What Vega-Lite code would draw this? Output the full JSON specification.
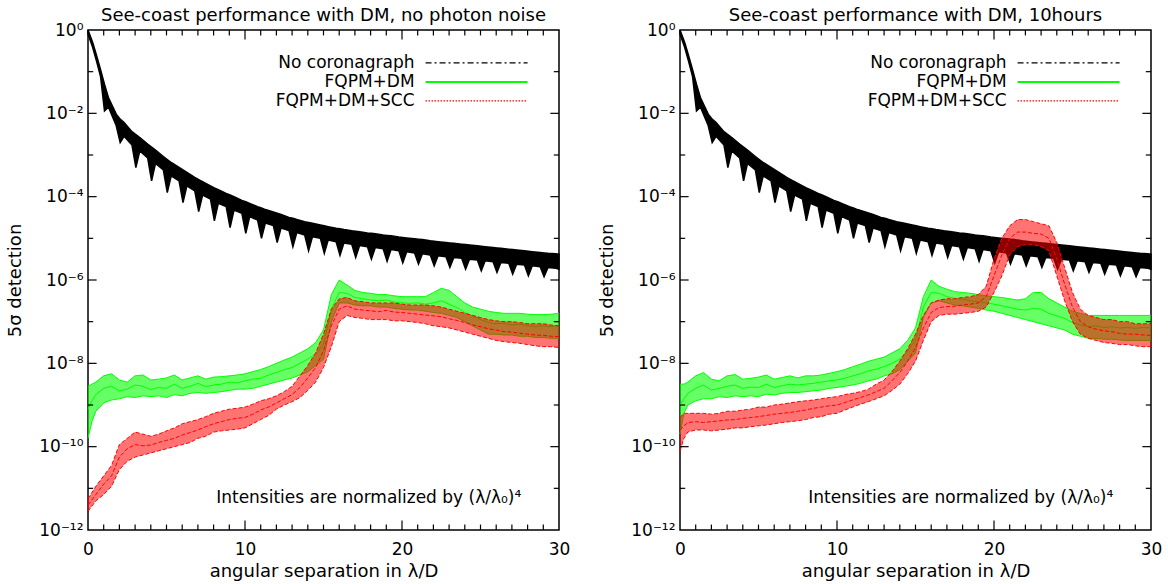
{
"$schema": "https://vega.github.io/schema/vega-lite/v6.json",
"background": "white",
"padding": {"left": 6, "top": 6, "right": 0, "bottom": 0},
"bounds": "flush",
"spacing": 121,
"config": {
  "view": {"stroke": "black", "strokeWidth": 1.5},
  "font": "DejaVu Sans",
  "axis": {"grid": false, "domain": false, "labelFont": "DejaVu Sans", "labelFontSize": 17, "labelColor": "black", "titleFont": "DejaVu Sans", "titleFontSize": 18, "titleFontWeight": "normal", "titleColor": "black", "labelFlush": false, "labelOverlap": false, "tickColor": "black", "tickWidth": 1},
  "title": {"font": "DejaVu Sans", "fontSize": 18, "fontWeight": "normal", "color": "black", "offset": -4},
  "text": {"font": "DejaVu Sans", "fontSize": 17, "color": "black", "baseline": "middle", "align": "right"}
},
"datasets": {
  "xminor": [{"v":1},{"v":2},{"v":3},{"v":4},{"v":5},{"v":6},{"v":7},{"v":8},{"v":9},{"v":11},{"v":12},{"v":13},{"v":14},{"v":15},{"v":16},{"v":17},{"v":18},{"v":19},{"v":21},{"v":22},{"v":23},{"v":24},{"v":25},{"v":26},{"v":27},{"v":28},{"v":29}],
  "xmajor": [{"v":10},{"v":20}],
  "yminor": [{"v":-1},{"v":-3},{"v":-5},{"v":-7},{"v":-9},{"v":-11}],
  "ymajor": [{"v":-2},{"v":-4},{"v":-6},{"v":-8},{"v":-10}],
  "black": [
    {"x":0,"up":0,"lo":-0.1},{"x":0.3,"up":-0.3,"lo":-0.42},{"x":0.55,"up":-0.62,"lo":-0.76},{"x":0.8,"up":-0.95,"lo":-1.12},{"x":1.05,"up":-1.3,"lo":-1.94},{"x":1.3,"up":-1.62,"lo":-1.85},
    {"x":1.8,"up":-2.02,"lo":-2.3},{"x":2.05,"up":-2.14,"lo":-2.7},{"x":2.3,"up":-2.22,"lo":-2.55},
    {"x":2.8,"up":-2.44,"lo":-2.76},{"x":3.05,"up":-2.51,"lo":-3.3},{"x":3.3,"up":-2.58,"lo":-2.9},
    {"x":3.8,"up":-2.74,"lo":-3.07},{"x":4.05,"up":-2.81,"lo":-3.62},{"x":4.3,"up":-2.88,"lo":-3.2},
    {"x":4.8,"up":-3.04,"lo":-3.36},{"x":5.05,"up":-3.11,"lo":-3.9},{"x":5.3,"up":-3.18,"lo":-3.5},
    {"x":5.8,"up":-3.3,"lo":-3.62},{"x":6.05,"up":-3.36,"lo":-4.14},{"x":6.3,"up":-3.42,"lo":-3.74},
    {"x":6.8,"up":-3.54,"lo":-3.86},{"x":7.05,"up":-3.59,"lo":-4.36},{"x":7.3,"up":-3.64,"lo":-3.96},
    {"x":7.8,"up":-3.74,"lo":-4.06},{"x":8.05,"up":-3.79,"lo":-4.58},{"x":8.3,"up":-3.83,"lo":-4.16},
    {"x":8.8,"up":-3.92,"lo":-4.24},{"x":9.05,"up":-3.96,"lo":-4.74},{"x":9.3,"up":-4.0,"lo":-4.32},
    {"x":9.8,"up":-4.09,"lo":-4.4},{"x":10.05,"up":-4.12,"lo":-4.88},{"x":10.3,"up":-4.16,"lo":-4.48},
    {"x":10.8,"up":-4.24,"lo":-4.56},{"x":11.05,"up":-4.27,"lo":-5.0},{"x":11.3,"up":-4.31,"lo":-4.63},
    {"x":11.8,"up":-4.37,"lo":-4.69},{"x":12.05,"up":-4.4,"lo":-5.1},{"x":12.3,"up":-4.43,"lo":-4.75},
    {"x":12.8,"up":-4.5,"lo":-4.81},{"x":13.05,"up":-4.52,"lo":-5.2},{"x":13.3,"up":-4.55,"lo":-4.86},
    {"x":13.8,"up":-4.6,"lo":-4.92},{"x":14.05,"up":-4.62,"lo":-5.3},{"x":14.3,"up":-4.64,"lo":-4.96},
    {"x":14.8,"up":-4.68,"lo":-5.0},{"x":15.05,"up":-4.7,"lo":-5.36},{"x":15.3,"up":-4.72,"lo":-5.04},
    {"x":15.8,"up":-4.76,"lo":-5.08},{"x":16.05,"up":-4.77,"lo":-5.41},{"x":16.3,"up":-4.79,"lo":-5.11},
    {"x":16.8,"up":-4.82,"lo":-5.14},{"x":17.05,"up":-4.83,"lo":-5.46},{"x":17.3,"up":-4.84,"lo":-5.17},
    {"x":17.8,"up":-4.87,"lo":-5.2},{"x":18.05,"up":-4.88,"lo":-5.5},{"x":18.3,"up":-4.89,"lo":-5.22},
    {"x":18.8,"up":-4.92,"lo":-5.25},{"x":19.05,"up":-4.93,"lo":-5.55},{"x":19.3,"up":-4.94,"lo":-5.27},
    {"x":19.8,"up":-4.97,"lo":-5.3},{"x":20.05,"up":-4.98,"lo":-5.59},{"x":20.3,"up":-4.99,"lo":-5.32},
    {"x":20.8,"up":-5.01,"lo":-5.35},{"x":21.05,"up":-5.02,"lo":-5.62},{"x":21.3,"up":-5.03,"lo":-5.37},
    {"x":21.8,"up":-5.06,"lo":-5.4},{"x":22.05,"up":-5.07,"lo":-5.66},{"x":22.3,"up":-5.08,"lo":-5.42},
    {"x":22.8,"up":-5.1,"lo":-5.44},{"x":23.05,"up":-5.11,"lo":-5.7},{"x":23.3,"up":-5.12,"lo":-5.46},
    {"x":23.8,"up":-5.14,"lo":-5.48},{"x":24.05,"up":-5.15,"lo":-5.74},{"x":24.3,"up":-5.16,"lo":-5.5},
    {"x":24.8,"up":-5.18,"lo":-5.52},{"x":25.05,"up":-5.19,"lo":-5.78},{"x":25.3,"up":-5.2,"lo":-5.54},
    {"x":25.8,"up":-5.22,"lo":-5.56},{"x":26.05,"up":-5.23,"lo":-5.82},{"x":26.3,"up":-5.24,"lo":-5.58},
    {"x":26.8,"up":-5.26,"lo":-5.6},{"x":27.05,"up":-5.27,"lo":-5.86},{"x":27.3,"up":-5.28,"lo":-5.62},
    {"x":27.8,"up":-5.3,"lo":-5.64},{"x":28.05,"up":-5.31,"lo":-5.9},{"x":28.3,"up":-5.32,"lo":-5.66},
    {"x":28.8,"up":-5.34,"lo":-5.68},{"x":29.05,"up":-5.35,"lo":-5.92},{"x":29.3,"up":-5.36,"lo":-5.7},
    {"x":29.8,"up":-5.37,"lo":-5.72},{"x":30,"up":-5.38,"lo":-5.74}
  ],
  "greenL": [
    {"x":0,"lo":-9.8,"mid":-9.1,"hi":-8.55},{"x":0.25,"lo":-9.4,"mid":-8.9,"hi":-8.5},{"x":0.5,"lo":-9.15,"mid":-8.75,"hi":-8.45},{"x":1,"lo":-8.95,"mid":-8.6,"hi":-8.3},{"x":1.5,"lo":-8.88,"mid":-8.55,"hi":-8.25},
    {"x":2,"lo":-8.85,"mid":-8.66,"hi":-8.4},{"x":2.5,"lo":-8.8,"mid":-8.62,"hi":-8.45},{"x":3,"lo":-8.82,"mid":-8.52,"hi":-8.3},{"x":3.5,"lo":-8.78,"mid":-8.55,"hi":-8.28},{"x":4,"lo":-8.8,"mid":-8.63,"hi":-8.4},
    {"x":4.5,"lo":-8.78,"mid":-8.58,"hi":-8.38},{"x":5,"lo":-8.82,"mid":-8.6,"hi":-8.35},{"x":5.5,"lo":-8.75,"mid":-8.5,"hi":-8.28},{"x":6,"lo":-8.78,"mid":-8.6,"hi":-8.4},{"x":6.5,"lo":-8.72,"mid":-8.55,"hi":-8.35},
    {"x":7,"lo":-8.7,"mid":-8.48,"hi":-8.3},{"x":7.5,"lo":-8.72,"mid":-8.56,"hi":-8.38},{"x":8,"lo":-8.7,"mid":-8.52,"hi":-8.33},{"x":8.5,"lo":-8.68,"mid":-8.5,"hi":-8.32},{"x":9,"lo":-8.65,"mid":-8.45,"hi":-8.3},
    {"x":9.5,"lo":-8.62,"mid":-8.47,"hi":-8.28},{"x":10,"lo":-8.62,"mid":-8.42,"hi":-8.25},{"x":10.5,"lo":-8.6,"mid":-8.38,"hi":-8.2},{"x":11,"lo":-8.55,"mid":-8.36,"hi":-8.15},{"x":11.5,"lo":-8.5,"mid":-8.28,"hi":-8.08},
    {"x":12,"lo":-8.45,"mid":-8.22,"hi":-8.0},{"x":12.5,"lo":-8.4,"mid":-8.15,"hi":-7.92},{"x":13,"lo":-8.35,"mid":-8.1,"hi":-7.85},{"x":13.5,"lo":-8.28,"mid":-8.0,"hi":-7.75},{"x":14,"lo":-8.2,"mid":-7.9,"hi":-7.65},
    {"x":14.5,"lo":-8.05,"mid":-7.78,"hi":-7.5},{"x":15,"lo":-7.9,"mid":-7.55,"hi":-7.2},{"x":15.5,"lo":-7.0,"mid":-6.7,"hi":-6.35},{"x":16,"lo":-6.55,"mid":-6.3,"hi":-6.0},{"x":16.5,"lo":-6.55,"mid":-6.32,"hi":-6.12},
    {"x":17,"lo":-6.6,"mid":-6.42,"hi":-6.25},{"x":17.5,"lo":-6.62,"mid":-6.45,"hi":-6.3},{"x":18,"lo":-6.62,"mid":-6.48,"hi":-6.32},{"x":18.5,"lo":-6.65,"mid":-6.5,"hi":-6.35},{"x":19,"lo":-6.65,"mid":-6.48,"hi":-6.35},
    {"x":19.5,"lo":-6.68,"mid":-6.53,"hi":-6.38},{"x":20,"lo":-6.7,"mid":-6.55,"hi":-6.4},{"x":20.5,"lo":-6.72,"mid":-6.56,"hi":-6.4},{"x":21,"lo":-6.72,"mid":-6.55,"hi":-6.4},{"x":21.5,"lo":-6.75,"mid":-6.58,"hi":-6.4},
    {"x":22,"lo":-6.78,"mid":-6.55,"hi":-6.3},{"x":22.5,"lo":-6.8,"mid":-6.5,"hi":-6.2},{"x":23,"lo":-6.85,"mid":-6.58,"hi":-6.25},{"x":23.5,"lo":-6.9,"mid":-6.66,"hi":-6.4},{"x":24,"lo":-7.0,"mid":-6.78,"hi":-6.55},
    {"x":24.5,"lo":-7.1,"mid":-6.86,"hi":-6.65},{"x":25,"lo":-7.2,"mid":-6.95,"hi":-6.7},{"x":25.5,"lo":-7.3,"mid":-7.02,"hi":-6.75},{"x":26,"lo":-7.3,"mid":-7.05,"hi":-6.78},{"x":26.5,"lo":-7.32,"mid":-7.04,"hi":-6.8},
    {"x":27,"lo":-7.32,"mid":-7.08,"hi":-6.8},{"x":27.5,"lo":-7.35,"mid":-7.06,"hi":-6.8},{"x":28,"lo":-7.35,"mid":-7.1,"hi":-6.82},{"x":28.5,"lo":-7.38,"mid":-7.12,"hi":-6.83},{"x":29,"lo":-7.38,"mid":-7.1,"hi":-6.83},
    {"x":29.5,"lo":-7.4,"mid":-7.12,"hi":-6.82},{"x":30,"lo":-7.4,"mid":-7.1,"hi":-6.8}
  ],
  "redL": [
    {"x":0,"lo":-11.55,"mid":-11.4,"hi":-11.25},{"x":0.5,"lo":-11.3,"mid":-11.15,"hi":-10.95},{"x":1,"lo":-11.15,"mid":-10.9,"hi":-10.7},{"x":1.5,"lo":-10.95,"mid":-10.7,"hi":-10.45},{"x":2,"lo":-10.55,"mid":-10.25,"hi":-9.95},
    {"x":2.5,"lo":-10.35,"mid":-10.05,"hi":-9.8},{"x":3,"lo":-10.25,"mid":-9.95,"hi":-9.65},{"x":3.5,"lo":-10.2,"mid":-9.98,"hi":-9.7},{"x":4,"lo":-10.15,"mid":-9.96,"hi":-9.75},{"x":4.5,"lo":-10.1,"mid":-9.9,"hi":-9.7},
    {"x":5,"lo":-10.05,"mid":-9.85,"hi":-9.62},{"x":5.5,"lo":-10.0,"mid":-9.8,"hi":-9.55},{"x":6,"lo":-9.95,"mid":-9.72,"hi":-9.45},{"x":6.5,"lo":-9.9,"mid":-9.66,"hi":-9.4},{"x":7,"lo":-9.8,"mid":-9.6,"hi":-9.35},
    {"x":7.5,"lo":-9.75,"mid":-9.52,"hi":-9.28},{"x":8,"lo":-9.65,"mid":-9.45,"hi":-9.2},{"x":8.5,"lo":-9.62,"mid":-9.4,"hi":-9.15},{"x":9,"lo":-9.6,"mid":-9.35,"hi":-9.1},{"x":9.5,"lo":-9.58,"mid":-9.32,"hi":-9.08},
    {"x":10,"lo":-9.55,"mid":-9.3,"hi":-9.05},{"x":10.5,"lo":-9.45,"mid":-9.22,"hi":-8.98},{"x":11,"lo":-9.35,"mid":-9.12,"hi":-8.9},{"x":11.5,"lo":-9.25,"mid":-9.05,"hi":-8.85},{"x":12,"lo":-9.1,"mid":-8.95,"hi":-8.78},
    {"x":12.5,"lo":-9.0,"mid":-8.85,"hi":-8.68},{"x":13,"lo":-8.92,"mid":-8.75,"hi":-8.55},{"x":13.5,"lo":-8.82,"mid":-8.58,"hi":-8.3},{"x":14,"lo":-8.65,"mid":-8.35,"hi":-8.05},{"x":14.5,"lo":-8.45,"mid":-8.1,"hi":-7.75},
    {"x":15,"lo":-8.1,"mid":-7.7,"hi":-7.3},{"x":15.5,"lo":-7.6,"mid":-7.1,"hi":-6.7},{"x":16,"lo":-7.0,"mid":-6.7,"hi":-6.45},{"x":16.5,"lo":-6.85,"mid":-6.62,"hi":-6.42},{"x":17,"lo":-6.9,"mid":-6.7,"hi":-6.5},
    {"x":17.5,"lo":-6.92,"mid":-6.72,"hi":-6.52},{"x":18,"lo":-6.95,"mid":-6.74,"hi":-6.55},{"x":18.5,"lo":-6.95,"mid":-6.76,"hi":-6.55},{"x":19,"lo":-6.95,"mid":-6.73,"hi":-6.55},{"x":19.5,"lo":-6.98,"mid":-6.77,"hi":-6.55},
    {"x":20,"lo":-6.98,"mid":-6.78,"hi":-6.58},{"x":20.5,"lo":-7.0,"mid":-6.8,"hi":-6.6},{"x":21,"lo":-7.02,"mid":-6.82,"hi":-6.6},{"x":21.5,"lo":-7.05,"mid":-6.84,"hi":-6.6},{"x":22,"lo":-7.1,"mid":-6.86,"hi":-6.62},
    {"x":22.5,"lo":-7.12,"mid":-6.88,"hi":-6.65},{"x":23,"lo":-7.15,"mid":-6.93,"hi":-6.7},{"x":23.5,"lo":-7.2,"mid":-6.97,"hi":-6.75},{"x":24,"lo":-7.25,"mid":-7.02,"hi":-6.8},{"x":24.5,"lo":-7.3,"mid":-7.08,"hi":-6.85},
    {"x":25,"lo":-7.35,"mid":-7.12,"hi":-6.9},{"x":25.5,"lo":-7.4,"mid":-7.17,"hi":-6.95},{"x":26,"lo":-7.45,"mid":-7.2,"hi":-6.98},{"x":26.5,"lo":-7.48,"mid":-7.24,"hi":-7.0},{"x":27,"lo":-7.5,"mid":-7.25,"hi":-7.0},
    {"x":27.5,"lo":-7.52,"mid":-7.28,"hi":-7.02},{"x":28,"lo":-7.55,"mid":-7.3,"hi":-7.05},{"x":28.5,"lo":-7.58,"mid":-7.32,"hi":-7.05},{"x":29,"lo":-7.6,"mid":-7.33,"hi":-7.05},{"x":29.5,"lo":-7.6,"mid":-7.35,"hi":-7.08},
    {"x":30,"lo":-7.62,"mid":-7.36,"hi":-7.1}
  ],
  "greenR": [
    {"x":0,"lo":-9.7,"mid":-9.0,"hi":-8.5},{"x":0.25,"lo":-9.2,"mid":-8.85,"hi":-8.5},{"x":0.5,"lo":-9.0,"mid":-8.72,"hi":-8.45},{"x":1,"lo":-8.9,"mid":-8.6,"hi":-8.3},{"x":1.5,"lo":-8.85,"mid":-8.52,"hi":-8.22},
    {"x":2,"lo":-8.85,"mid":-8.64,"hi":-8.38},{"x":2.5,"lo":-8.8,"mid":-8.6,"hi":-8.42},{"x":3,"lo":-8.82,"mid":-8.55,"hi":-8.3},{"x":3.5,"lo":-8.78,"mid":-8.52,"hi":-8.27},{"x":4,"lo":-8.8,"mid":-8.6,"hi":-8.38},
    {"x":4.5,"lo":-8.78,"mid":-8.57,"hi":-8.36},{"x":5,"lo":-8.8,"mid":-8.58,"hi":-8.33},{"x":5.5,"lo":-8.74,"mid":-8.5,"hi":-8.28},{"x":6,"lo":-8.76,"mid":-8.58,"hi":-8.38},{"x":6.5,"lo":-8.72,"mid":-8.54,"hi":-8.34},
    {"x":7,"lo":-8.7,"mid":-8.5,"hi":-8.3},{"x":7.5,"lo":-8.7,"mid":-8.52,"hi":-8.35},{"x":8,"lo":-8.68,"mid":-8.5,"hi":-8.3},{"x":8.5,"lo":-8.66,"mid":-8.48,"hi":-8.3},{"x":9,"lo":-8.64,"mid":-8.45,"hi":-8.28},
    {"x":9.5,"lo":-8.6,"mid":-8.42,"hi":-8.24},{"x":10,"lo":-8.58,"mid":-8.4,"hi":-8.2},{"x":10.5,"lo":-8.55,"mid":-8.36,"hi":-8.15},{"x":11,"lo":-8.52,"mid":-8.3,"hi":-8.08},{"x":11.5,"lo":-8.48,"mid":-8.25,"hi":-8.02},
    {"x":12,"lo":-8.42,"mid":-8.18,"hi":-7.95},{"x":12.5,"lo":-8.38,"mid":-8.14,"hi":-7.9},{"x":13,"lo":-8.3,"mid":-8.08,"hi":-7.85},{"x":13.5,"lo":-8.25,"mid":-8.0,"hi":-7.75},{"x":14,"lo":-8.15,"mid":-7.9,"hi":-7.65},
    {"x":14.5,"lo":-7.95,"mid":-7.7,"hi":-7.45},{"x":15,"lo":-7.75,"mid":-7.45,"hi":-7.15},{"x":15.5,"lo":-6.9,"mid":-6.65,"hi":-6.4},{"x":16,"lo":-6.55,"mid":-6.3,"hi":-6.0},{"x":16.5,"lo":-6.5,"mid":-6.32,"hi":-6.15},
    {"x":17,"lo":-6.55,"mid":-6.4,"hi":-6.22},{"x":17.5,"lo":-6.6,"mid":-6.44,"hi":-6.28},{"x":18,"lo":-6.62,"mid":-6.46,"hi":-6.3},{"x":18.5,"lo":-6.65,"mid":-6.5,"hi":-6.32},{"x":19,"lo":-6.68,"mid":-6.52,"hi":-6.35},
    {"x":19.5,"lo":-6.72,"mid":-6.55,"hi":-6.38},{"x":20,"lo":-6.75,"mid":-6.58,"hi":-6.4},{"x":20.5,"lo":-6.8,"mid":-6.62,"hi":-6.42},{"x":21,"lo":-6.85,"mid":-6.66,"hi":-6.45},{"x":21.5,"lo":-6.9,"mid":-6.7,"hi":-6.48},
    {"x":22,"lo":-6.95,"mid":-6.72,"hi":-6.45},{"x":22.5,"lo":-7.0,"mid":-6.68,"hi":-6.3},{"x":23,"lo":-7.05,"mid":-6.7,"hi":-6.3},{"x":23.5,"lo":-7.1,"mid":-6.8,"hi":-6.45},{"x":24,"lo":-7.15,"mid":-6.86,"hi":-6.55},
    {"x":24.5,"lo":-7.2,"mid":-6.92,"hi":-6.65},{"x":25,"lo":-7.3,"mid":-7.02,"hi":-6.75},{"x":25.5,"lo":-7.35,"mid":-7.08,"hi":-6.8},{"x":26,"lo":-7.4,"mid":-7.12,"hi":-6.85},{"x":26.5,"lo":-7.4,"mid":-7.1,"hi":-6.85},
    {"x":27,"lo":-7.42,"mid":-7.14,"hi":-6.85},{"x":27.5,"lo":-7.42,"mid":-7.12,"hi":-6.85},{"x":28,"lo":-7.44,"mid":-7.15,"hi":-6.85},{"x":28.5,"lo":-7.45,"mid":-7.14,"hi":-6.85},{"x":29,"lo":-7.45,"mid":-7.16,"hi":-6.85},
    {"x":29.5,"lo":-7.45,"mid":-7.14,"hi":-6.85},{"x":30,"lo":-7.45,"mid":-7.15,"hi":-6.85}
  ],
  "redR": [
    {"x":0,"lo":-10.1,"mid":-9.6,"hi":-9.3},{"x":0.25,"lo":-9.8,"mid":-9.5,"hi":-9.2},{"x":0.5,"lo":-9.65,"mid":-9.42,"hi":-9.2},{"x":1,"lo":-9.6,"mid":-9.4,"hi":-9.2},{"x":1.5,"lo":-9.6,"mid":-9.42,"hi":-9.2},
    {"x":2,"lo":-9.62,"mid":-9.4,"hi":-9.22},{"x":2.5,"lo":-9.6,"mid":-9.38,"hi":-9.2},{"x":3,"lo":-9.58,"mid":-9.36,"hi":-9.15},{"x":3.5,"lo":-9.55,"mid":-9.35,"hi":-9.15},{"x":4,"lo":-9.55,"mid":-9.32,"hi":-9.12},
    {"x":4.5,"lo":-9.52,"mid":-9.3,"hi":-9.1},{"x":5,"lo":-9.5,"mid":-9.28,"hi":-9.05},{"x":5.5,"lo":-9.48,"mid":-9.25,"hi":-9.05},{"x":6,"lo":-9.45,"mid":-9.22,"hi":-9.0},{"x":6.5,"lo":-9.42,"mid":-9.2,"hi":-8.98},
    {"x":7,"lo":-9.4,"mid":-9.18,"hi":-8.95},{"x":7.5,"lo":-9.38,"mid":-9.15,"hi":-8.92},{"x":8,"lo":-9.35,"mid":-9.12,"hi":-8.9},{"x":8.5,"lo":-9.3,"mid":-9.08,"hi":-8.88},{"x":9,"lo":-9.28,"mid":-9.05,"hi":-8.85},
    {"x":9.5,"lo":-9.22,"mid":-9.02,"hi":-8.82},{"x":10,"lo":-9.2,"mid":-9.0,"hi":-8.8},{"x":10.5,"lo":-9.12,"mid":-8.94,"hi":-8.75},{"x":11,"lo":-9.05,"mid":-8.88,"hi":-8.72},{"x":11.5,"lo":-8.98,"mid":-8.82,"hi":-8.68},
    {"x":12,"lo":-8.92,"mid":-8.76,"hi":-8.62},{"x":12.5,"lo":-8.85,"mid":-8.68,"hi":-8.5},{"x":13,"lo":-8.78,"mid":-8.6,"hi":-8.4},{"x":13.5,"lo":-8.65,"mid":-8.42,"hi":-8.2},{"x":14,"lo":-8.5,"mid":-8.22,"hi":-7.95},
    {"x":14.5,"lo":-8.25,"mid":-7.95,"hi":-7.65},{"x":15,"lo":-7.95,"mid":-7.62,"hi":-7.3},{"x":15.5,"lo":-7.45,"mid":-7.15,"hi":-6.85},{"x":16,"lo":-7.0,"mid":-6.78,"hi":-6.55},{"x":16.5,"lo":-6.85,"mid":-6.66,"hi":-6.48},
    {"x":17,"lo":-6.82,"mid":-6.64,"hi":-6.45},{"x":17.5,"lo":-6.82,"mid":-6.63,"hi":-6.45},{"x":18,"lo":-6.8,"mid":-6.6,"hi":-6.42},{"x":18.5,"lo":-6.78,"mid":-6.58,"hi":-6.4},{"x":19,"lo":-6.75,"mid":-6.55,"hi":-6.35},
    {"x":19.5,"lo":-6.65,"mid":-6.4,"hi":-6.15},{"x":20,"lo":-6.3,"mid":-5.9,"hi":-5.5},{"x":20.5,"lo":-5.9,"mid":-5.4,"hi":-5.0},{"x":21,"lo":-5.4,"mid":-5.0,"hi":-4.7},{"x":21.5,"lo":-5.2,"mid":-4.85,"hi":-4.55},
    {"x":22,"lo":-5.15,"mid":-4.85,"hi":-4.55},{"x":22.5,"lo":-5.15,"mid":-4.88,"hi":-4.6},{"x":23,"lo":-5.2,"mid":-4.9,"hi":-4.65},{"x":23.5,"lo":-5.3,"mid":-5.0,"hi":-4.7},{"x":24,"lo":-5.9,"mid":-5.5,"hi":-5.1},
    {"x":24.5,"lo":-6.5,"mid":-6.1,"hi":-5.7},{"x":25,"lo":-7.0,"mid":-6.65,"hi":-6.3},{"x":25.5,"lo":-7.3,"mid":-7.0,"hi":-6.7},{"x":26,"lo":-7.4,"mid":-7.12,"hi":-6.85},{"x":26.5,"lo":-7.45,"mid":-7.18,"hi":-6.9},
    {"x":27,"lo":-7.5,"mid":-7.22,"hi":-6.95},{"x":27.5,"lo":-7.52,"mid":-7.24,"hi":-6.95},{"x":28,"lo":-7.55,"mid":-7.28,"hi":-7.0},{"x":28.5,"lo":-7.55,"mid":-7.3,"hi":-7.0},{"x":29,"lo":-7.58,"mid":-7.3,"hi":-7.05},
    {"x":29.5,"lo":-7.6,"mid":-7.32,"hi":-7.05},{"x":30,"lo":-7.6,"mid":-7.33,"hi":-7.05}
  ]
},
"hconcat": [
  {
    "width": 471, "height": 500,
    "title": {"text": "See-coast performance with DM, no photon noise"},
    "resolve": {"axis": {"x": "independent", "y": "independent"}},
    "layer": [
      {"data": {"name": "black"}, "mark": {"type": "area", "color": "black", "stroke": "black", "strokeWidth": 1.5, "opacity": 1},
       "encoding": {"x": {"field": "x", "type": "quantitative", "scale": {"domain": [0, 30], "nice": false, "zero": false}, "axis": null},
                    "y": {"field": "up", "type": "quantitative", "scale": {"domain": [-12, 0], "nice": false, "zero": false}, "axis": null},
                    "y2": {"field": "lo"}}},
      {"data": {"name": "greenL"}, "mark": {"type": "area", "color": "#00ff00", "opacity": 0.6},
       "encoding": {"x": {"field": "x", "type": "quantitative", "axis": null}, "y": {"field": "hi", "type": "quantitative", "axis": null}, "y2": {"field": "lo"}}},
      {"data": {"name": "greenL"}, "transform": [{"fold": ["lo", "mid", "hi"], "as": ["edge", "val"]}],
       "mark": {"type": "line", "color": "#00ff00", "strokeWidth": 1},
       "encoding": {"x": {"field": "x", "type": "quantitative", "axis": null}, "y": {"field": "val", "type": "quantitative", "axis": null}, "detail": {"field": "edge"}}},
      {"data": {"name": "redL"}, "mark": {"type": "area", "color": "#ff0000", "opacity": 0.55},
       "encoding": {"x": {"field": "x", "type": "quantitative", "axis": null}, "y": {"field": "hi", "type": "quantitative", "axis": null}, "y2": {"field": "lo"}}},
      {"data": {"name": "redL"}, "transform": [{"fold": ["lo", "mid", "hi"], "as": ["edge", "val"]}],
       "mark": {"type": "line", "color": "#ff0000", "strokeWidth": 1, "strokeDash": [4, 2]},
       "encoding": {"x": {"field": "x", "type": "quantitative", "axis": null}, "y": {"field": "val", "type": "quantitative", "axis": null}, "detail": {"field": "edge"}}},
      {"data": {"values": [{}]}, "mark": {"type": "rule", "color": "black", "strokeWidth": 1.2, "strokeDash": [6, 3, 2, 3]},
       "encoding": {"x": {"datum": 21.5, "type": "quantitative", "axis": null}, "x2": {"datum": 28}, "y": {"datum": -0.79, "type": "quantitative", "axis": null}}},
      {"data": {"values": [{}]}, "mark": {"type": "rule", "color": "#00ff00", "strokeWidth": 2},
       "encoding": {"x": {"datum": 21.5, "type": "quantitative", "axis": null}, "x2": {"datum": 28}, "y": {"datum": -1.25, "type": "quantitative", "axis": null}}},
      {"data": {"values": [{}]}, "mark": {"type": "rule", "color": "#ff0000", "strokeWidth": 1.2, "strokeDash": [1.5, 1.5]},
       "encoding": {"x": {"datum": 21.5, "type": "quantitative", "axis": null}, "x2": {"datum": 28}, "y": {"datum": -1.7, "type": "quantitative", "axis": null}}},
      {"data": {"values": [{}]}, "mark": {"type": "text", "text": "No coronagraph"},
       "encoding": {"x": {"datum": 20.8, "type": "quantitative", "axis": null}, "y": {"datum": -0.79, "type": "quantitative", "axis": null}}},
      {"data": {"values": [{}]}, "mark": {"type": "text", "text": "FQPM+DM"},
       "encoding": {"x": {"datum": 20.8, "type": "quantitative", "axis": null}, "y": {"datum": -1.25, "type": "quantitative", "axis": null}}},
      {"data": {"values": [{}]}, "mark": {"type": "text", "text": "FQPM+DM+SCC"},
       "encoding": {"x": {"datum": 20.8, "type": "quantitative", "axis": null}, "y": {"datum": -1.7, "type": "quantitative", "axis": null}}},
      {"data": {"values": [{}]}, "mark": {"type": "text", "text": "Intensities are normalized by (λ/λ₀)⁴"},
       "encoding": {"x": {"datum": 27.6, "type": "quantitative", "axis": null}, "y": {"datum": -11.23, "type": "quantitative", "axis": null}}},
      {"data": {"name": "xminor"}, "mark": {"type": "rule", "color": "black", "strokeWidth": 1.2},
       "encoding": {"x": {"field": "v", "type": "quantitative", "axis": null}, "y": {"datum": -12, "type": "quantitative", "axis": null}, "y2": {"datum": -11.87}}},
      {"data": {"name": "xminor"}, "mark": {"type": "rule", "color": "black", "strokeWidth": 1.2},
       "encoding": {"x": {"field": "v", "type": "quantitative", "axis": null}, "y": {"datum": 0, "type": "quantitative", "axis": null}, "y2": {"datum": -0.13}}},
      {"data": {"name": "xmajor"}, "mark": {"type": "rule", "color": "black", "strokeWidth": 1.2},
       "encoding": {"x": {"field": "v", "type": "quantitative", "axis": null}, "y": {"datum": -12, "type": "quantitative", "axis": null}, "y2": {"datum": -11.77}}},
      {"data": {"name": "xmajor"}, "mark": {"type": "rule", "color": "black", "strokeWidth": 1.2},
       "encoding": {"x": {"field": "v", "type": "quantitative", "axis": null}, "y": {"datum": 0, "type": "quantitative", "axis": null}, "y2": {"datum": -0.23}}},
      {"data": {"name": "yminor"}, "mark": {"type": "rule", "color": "black", "strokeWidth": 1.2},
       "encoding": {"y": {"field": "v", "type": "quantitative", "axis": null}, "x": {"datum": 0, "type": "quantitative", "axis": null}, "x2": {"datum": 0.33}}},
      {"data": {"name": "yminor"}, "mark": {"type": "rule", "color": "black", "strokeWidth": 1.2},
       "encoding": {"y": {"field": "v", "type": "quantitative", "axis": null}, "x": {"datum": 30, "type": "quantitative", "axis": null}, "x2": {"datum": 29.67}}},
      {"data": {"name": "ymajor"}, "mark": {"type": "rule", "color": "black", "strokeWidth": 1.2},
       "encoding": {"y": {"field": "v", "type": "quantitative", "axis": null}, "x": {"datum": 0, "type": "quantitative", "axis": null}, "x2": {"datum": 0.55}}},
      {"data": {"name": "ymajor"}, "mark": {"type": "rule", "color": "black", "strokeWidth": 1.2},
       "encoding": {"y": {"field": "v", "type": "quantitative", "axis": null}, "x": {"datum": 30, "type": "quantitative", "axis": null}, "x2": {"datum": 29.45}}},
      {"data": {"name": "black"}, "mark": {"type": "point", "opacity": 0},
       "encoding": {"x": {"field": "x", "type": "quantitative", "axis": {"orient": "bottom", "values": [0, 10, 20, 30], "ticks": false, "labelPadding": 11, "title": "angular separation in λ/D", "titlePadding": 5}},
                    "y": {"field": "up", "type": "quantitative", "axis": {"orient": "left", "values": [0, -2, -4, -6, -8, -10, -12], "ticks": false, "labelPadding": 5, "title": "5σ detection", "titlePadding": 14,
                      "labelExpr": "datum.value === 0 ? '10⁰' : datum.value === -2 ? '10⁻²' : datum.value === -4 ? '10⁻⁴' : datum.value === -6 ? '10⁻⁶' : datum.value === -8 ? '10⁻⁸' : datum.value === -10 ? '10⁻¹⁰' : '10⁻¹²'"}}}}
    ]
  },
  {
    "width": 471, "height": 500,
    "title": {"text": "See-coast performance with DM, 10hours"},
    "resolve": {"axis": {"x": "independent", "y": "independent"}},
    "layer": [
      {"data": {"name": "black"}, "mark": {"type": "area", "color": "black", "stroke": "black", "strokeWidth": 1.5, "opacity": 1},
       "encoding": {"x": {"field": "x", "type": "quantitative", "scale": {"domain": [0, 30], "nice": false, "zero": false}, "axis": null},
                    "y": {"field": "up", "type": "quantitative", "scale": {"domain": [-12, 0], "nice": false, "zero": false}, "axis": null},
                    "y2": {"field": "lo"}}},
      {"data": {"name": "greenR"}, "mark": {"type": "area", "color": "#00ff00", "opacity": 0.6},
       "encoding": {"x": {"field": "x", "type": "quantitative", "axis": null}, "y": {"field": "hi", "type": "quantitative", "axis": null}, "y2": {"field": "lo"}}},
      {"data": {"name": "greenR"}, "transform": [{"fold": ["lo", "mid", "hi"], "as": ["edge", "val"]}],
       "mark": {"type": "line", "color": "#00ff00", "strokeWidth": 1},
       "encoding": {"x": {"field": "x", "type": "quantitative", "axis": null}, "y": {"field": "val", "type": "quantitative", "axis": null}, "detail": {"field": "edge"}}},
      {"data": {"name": "redR"}, "mark": {"type": "area", "color": "#ff0000", "opacity": 0.55},
       "encoding": {"x": {"field": "x", "type": "quantitative", "axis": null}, "y": {"field": "hi", "type": "quantitative", "axis": null}, "y2": {"field": "lo"}}},
      {"data": {"name": "redR"}, "transform": [{"fold": ["lo", "mid", "hi"], "as": ["edge", "val"]}],
       "mark": {"type": "line", "color": "#ff0000", "strokeWidth": 1, "strokeDash": [4, 2]},
       "encoding": {"x": {"field": "x", "type": "quantitative", "axis": null}, "y": {"field": "val", "type": "quantitative", "axis": null}, "detail": {"field": "edge"}}},
      {"data": {"values": [{}]}, "mark": {"type": "rule", "color": "black", "strokeWidth": 1.2, "strokeDash": [6, 3, 2, 3]},
       "encoding": {"x": {"datum": 21.5, "type": "quantitative", "axis": null}, "x2": {"datum": 28}, "y": {"datum": -0.79, "type": "quantitative", "axis": null}}},
      {"data": {"values": [{}]}, "mark": {"type": "rule", "color": "#00ff00", "strokeWidth": 2},
       "encoding": {"x": {"datum": 21.5, "type": "quantitative", "axis": null}, "x2": {"datum": 28}, "y": {"datum": -1.25, "type": "quantitative", "axis": null}}},
      {"data": {"values": [{}]}, "mark": {"type": "rule", "color": "#ff0000", "strokeWidth": 1.2, "strokeDash": [1.5, 1.5]},
       "encoding": {"x": {"datum": 21.5, "type": "quantitative", "axis": null}, "x2": {"datum": 28}, "y": {"datum": -1.7, "type": "quantitative", "axis": null}}},
      {"data": {"values": [{}]}, "mark": {"type": "text", "text": "No coronagraph"},
       "encoding": {"x": {"datum": 20.8, "type": "quantitative", "axis": null}, "y": {"datum": -0.79, "type": "quantitative", "axis": null}}},
      {"data": {"values": [{}]}, "mark": {"type": "text", "text": "FQPM+DM"},
       "encoding": {"x": {"datum": 20.8, "type": "quantitative", "axis": null}, "y": {"datum": -1.25, "type": "quantitative", "axis": null}}},
      {"data": {"values": [{}]}, "mark": {"type": "text", "text": "FQPM+DM+SCC"},
       "encoding": {"x": {"datum": 20.8, "type": "quantitative", "axis": null}, "y": {"datum": -1.7, "type": "quantitative", "axis": null}}},
      {"data": {"values": [{}]}, "mark": {"type": "text", "text": "Intensities are normalized by (λ/λ₀)⁴"},
       "encoding": {"x": {"datum": 27.6, "type": "quantitative", "axis": null}, "y": {"datum": -11.23, "type": "quantitative", "axis": null}}},
      {"data": {"name": "xminor"}, "mark": {"type": "rule", "color": "black", "strokeWidth": 1.2},
       "encoding": {"x": {"field": "v", "type": "quantitative", "axis": null}, "y": {"datum": -12, "type": "quantitative", "axis": null}, "y2": {"datum": -11.87}}},
      {"data": {"name": "xminor"}, "mark": {"type": "rule", "color": "black", "strokeWidth": 1.2},
       "encoding": {"x": {"field": "v", "type": "quantitative", "axis": null}, "y": {"datum": 0, "type": "quantitative", "axis": null}, "y2": {"datum": -0.13}}},
      {"data": {"name": "xmajor"}, "mark": {"type": "rule", "color": "black", "strokeWidth": 1.2},
       "encoding": {"x": {"field": "v", "type": "quantitative", "axis": null}, "y": {"datum": -12, "type": "quantitative", "axis": null}, "y2": {"datum": -11.77}}},
      {"data": {"name": "xmajor"}, "mark": {"type": "rule", "color": "black", "strokeWidth": 1.2},
       "encoding": {"x": {"field": "v", "type": "quantitative", "axis": null}, "y": {"datum": 0, "type": "quantitative", "axis": null}, "y2": {"datum": -0.23}}},
      {"data": {"name": "yminor"}, "mark": {"type": "rule", "color": "black", "strokeWidth": 1.2},
       "encoding": {"y": {"field": "v", "type": "quantitative", "axis": null}, "x": {"datum": 0, "type": "quantitative", "axis": null}, "x2": {"datum": 0.33}}},
      {"data": {"name": "yminor"}, "mark": {"type": "rule", "color": "black", "strokeWidth": 1.2},
       "encoding": {"y": {"field": "v", "type": "quantitative", "axis": null}, "x": {"datum": 30, "type": "quantitative", "axis": null}, "x2": {"datum": 29.67}}},
      {"data": {"name": "ymajor"}, "mark": {"type": "rule", "color": "black", "strokeWidth": 1.2},
       "encoding": {"y": {"field": "v", "type": "quantitative", "axis": null}, "x": {"datum": 0, "type": "quantitative", "axis": null}, "x2": {"datum": 0.55}}},
      {"data": {"name": "ymajor"}, "mark": {"type": "rule", "color": "black", "strokeWidth": 1.2},
       "encoding": {"y": {"field": "v", "type": "quantitative", "axis": null}, "x": {"datum": 30, "type": "quantitative", "axis": null}, "x2": {"datum": 29.45}}},
      {"data": {"name": "black"}, "mark": {"type": "point", "opacity": 0},
       "encoding": {"x": {"field": "x", "type": "quantitative", "axis": {"orient": "bottom", "values": [0, 10, 20, 30], "ticks": false, "labelPadding": 11, "title": "angular separation in λ/D", "titlePadding": 5}},
                    "y": {"field": "up", "type": "quantitative", "axis": {"orient": "left", "values": [0, -2, -4, -6, -8, -10, -12], "ticks": false, "labelPadding": 5, "title": "5σ detection", "titlePadding": 14,
                      "labelExpr": "datum.value === 0 ? '10⁰' : datum.value === -2 ? '10⁻²' : datum.value === -4 ? '10⁻⁴' : datum.value === -6 ? '10⁻⁶' : datum.value === -8 ? '10⁻⁸' : datum.value === -10 ? '10⁻¹⁰' : '10⁻¹²'"}}}}
    ]
  }
]
}
